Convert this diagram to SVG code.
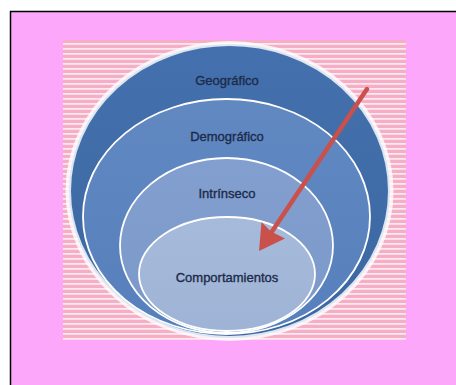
<svg xmlns="http://www.w3.org/2000/svg" width="456" height="385" viewBox="0 0 456 385">
<defs>
<pattern id="stripes" x="0" y="40" width="8" height="5" patternUnits="userSpaceOnUse">
<rect width="8" height="5" fill="#F6AEC6"/>
<rect y="3" width="8" height="1.8" fill="#FCE8EF"/>
</pattern>
<linearGradient id="g1" x1="0" y1="0" x2="0" y2="1">
<stop offset="0" stop-color="#4471AD"/>
<stop offset="1" stop-color="#3B66A2"/>
</linearGradient>
<linearGradient id="g2" x1="0" y1="0" x2="0" y2="1">
<stop offset="0" stop-color="#6188C1"/>
<stop offset="1" stop-color="#5680BC"/>
</linearGradient>
<linearGradient id="g3" x1="0" y1="0" x2="0" y2="1">
<stop offset="0" stop-color="#829FCF"/>
<stop offset="1" stop-color="#7A98C9"/>
</linearGradient>
<linearGradient id="g4" x1="0" y1="0" x2="0" y2="1">
<stop offset="0" stop-color="#A6BADB"/>
<stop offset="1" stop-color="#9FB3D6"/>
</linearGradient>
</defs>
<style>
.lbl{font-family:"Liberation Sans",Arial,sans-serif;font-size:13px;fill:#1C2B4A;stroke:#1C2B4A;stroke-width:0.35;text-anchor:middle}
.ring{stroke:#FFFFFF;stroke-width:1.8}
</style>
<rect width="456" height="385" fill="#FFFFFF"/>
<rect x="10" y="11" width="446" height="374" fill="#FDA7FB"/>
<path d="M10.5 385 V11.5 H456" fill="none" stroke="#000000" stroke-width="1.5"/>
<rect x="63" y="40" width="343" height="300" fill="url(#stripes)"/>
<ellipse cx="229.5" cy="191" rx="164" ry="150" fill="#FFFFFF" opacity="0.8"/>
<g id="geografico">
<ellipse cx="229.5" cy="191" rx="159.5" ry="146" fill="url(#g1)" stroke="#DCE6F2" stroke-width="2"/>
<text class="lbl" x="227" y="85">Geográfico</text>
</g>
<g id="demografico">
<ellipse class="ring" cx="226.5" cy="216.5" rx="143.5" ry="117.5" fill="url(#g2)"/>
<text class="lbl" x="227" y="141">Demográfico</text>
</g>
<g id="intrinseco">
<ellipse class="ring" cx="226.5" cy="245.5" rx="106.5" ry="87.5" fill="url(#g3)"/>
<text class="lbl" x="227" y="198">Intrínseco</text>
</g>
<g id="comportamientos">
<ellipse class="ring" cx="227" cy="274" rx="88" ry="57" fill="url(#g4)"/>
<text class="lbl" x="227" y="282">Comportamientos</text>
</g>
<g id="connectors">
<line x1="367" y1="89" x2="269" y2="236" stroke="#C9504B" stroke-width="4.5" stroke-linecap="round"/>
<polygon points="259,251 261.5,222 271,231.5 285,238.5" fill="#C9504B"/>
</g>
</svg>
